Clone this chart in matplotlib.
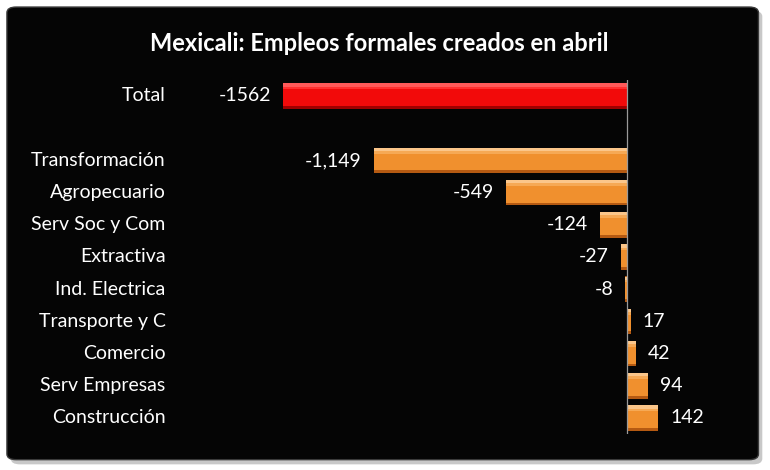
import matplotlib
matplotlib.use('Agg')
import matplotlib.pyplot as plt
from matplotlib.patches import FancyBboxPatch

plt.rcParams['font.family'] = ['Lato', 'DejaVu Sans']

# data
categories = ['Total', '', 'Transformación', 'Agropecuario', 'Serv Soc y Com',
              'Extractiva', 'Ind. Electrica', 'Transporte y C', 'Comercio',
              'Serv Empresas', 'Construcción']
values = [-1562, None, -1149, -549, -124, -27, -8, 17, 42, 94, 142]
value_labels = ['-1562', '', '-1,149', '-549', '-124', '-27', '-8', '17', '42', '94', '142']

fig = plt.figure(figsize=(7.7, 4.7), dpi=100)
fig.patch.set_facecolor('white')

# black rounded panel with soft shadow
shadow = FancyBboxPatch((0.014, 0.012), 0.976, 0.965, boxstyle="round,pad=0,rounding_size=0.012",
                        transform=fig.transFigure, facecolor='#c8c8c8', edgecolor='none', zorder=0)
panel = FancyBboxPatch((0.009, 0.022), 0.976, 0.963, boxstyle="round,pad=0,rounding_size=0.012",
                       transform=fig.transFigure, facecolor='#050505', edgecolor='#3a3a3a',
                       linewidth=1.0, zorder=1)
fig.patches.extend([shadow, panel])

ax = fig.add_axes([0.2423, 0.0764, 0.6864, 0.7536])
ax.set_facecolor('none')
ax.set_zorder(2)
ax.set_xlim(-2000, 400)
ax.set_ylim(10.5, -0.5)

ypos = [i for i, v in enumerate(values) if v is not None]
vals = [v for v in values if v is not None]
cols = ['#f20a0a' if i == 0 else '#f0902e' for i in ypos]
dark = ['#a00000' if i == 0 else '#b55a12' for i in ypos]
mid = ['#ff3030' if i == 0 else '#f6a955' for i in ypos]
light = ['#ff5a5a' if i == 0 else '#fbc68a' for i in ypos]

h = 0.8
ax.barh(ypos, vals, height=h, color=dark, edgecolor='none', zorder=3)
ax.barh([y - 0.03 for y in ypos], vals, height=h - 0.12, color=cols, edgecolor='none', zorder=4)
ax.barh([y - h / 2 + 0.14 for y in ypos], vals, height=0.1, color=mid, edgecolor='none', zorder=5)
ax.barh([y - h / 2 + 0.06 for y in ypos], vals, height=0.1, color=light, edgecolor='none', zorder=5)

ax.axvline(0, color='#9a9a9a', linewidth=0.9, zorder=6)

for y, v, lab in zip(ypos, vals, [value_labels[i] for i in ypos]):
    if v < 0:
        ax.annotate(lab, (v, y), xytext=(-12, 0), textcoords='offset pixels',
                    ha='right', va='center', color='white', fontsize=14)
    else:
        ax.annotate(lab, (v, y), xytext=(12, 0), textcoords='offset pixels',
                    ha='left', va='center', color='white', fontsize=14)

for i, c in enumerate(categories):
    if c:
        ax.annotate(c, (0, i), xycoords=('axes fraction', 'data'), xytext=(-21, 0),
                    textcoords='offset pixels', ha='right', va='center',
                    color='white', fontsize=14)

for s in ax.spines.values():
    s.set_visible(False)
ax.set_xticks([])
ax.set_yticks([])

fig.text(0.492, 0.907, 'Mexicali: Empleos formales creados en abril', ha='center', va='center',
         color='white', fontsize=17, fontweight='bold', zorder=3)

fig.savefig('out.png', dpi=100, facecolor='white')
